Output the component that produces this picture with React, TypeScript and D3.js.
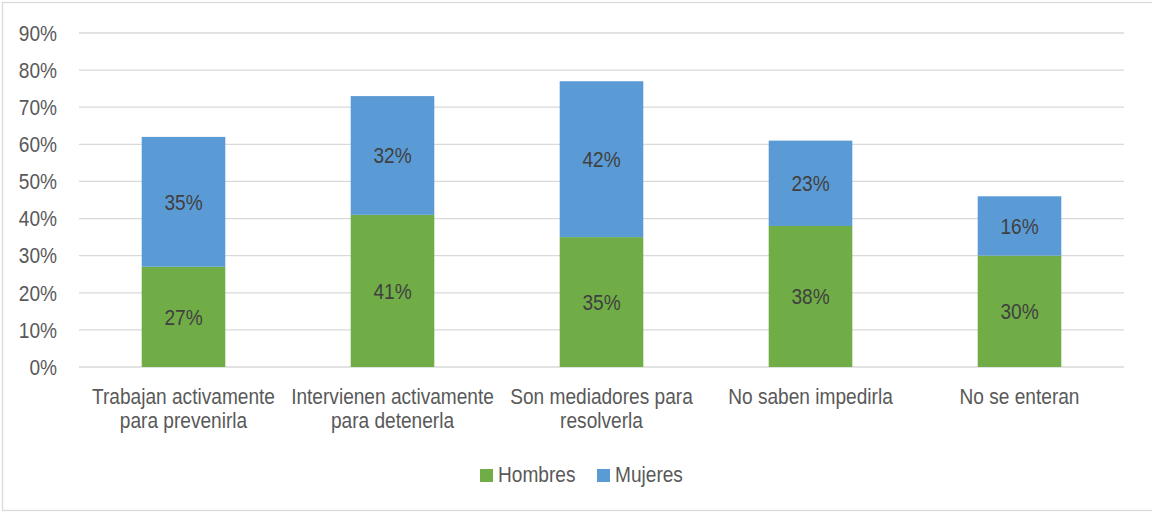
import React, { useEffect, useRef } from 'react';
import * as d3 from 'd3';

const categories: string[][] = [
    ["Trabajan activamente", "para prevenirla"],
    ["Intervienen activamente", "para detenerla"],
    ["Son mediadores para", "resolverla"],
    ["No saben impedirla"],
    ["No se enteran"],
];
const hombres = [27, 41, 35, 38, 30];
const mujeres = [35, 32, 42, 23, 16];
const yTicks = [0, 10, 20, 30, 40, 50, 60, 70, 80, 90];
const seriesNames = ["Hombres", "Mujeres"];
const seriesColors = ["#70AD47", "#5B9BD5"];

const ChartSvg: React.FC<{ width?: number; height?: number }> = ({ width = 1152, height = 512 }) => {
    const svgRef = useRef<SVGSVGElement>(null);

    useEffect(() => {
        if (!svgRef.current) return;
        const svg = d3.select(svgRef.current);
        svg.selectAll("*").remove();

        const font = "'Liberation Sans', Arial, sans-serif";
        // source text is a bit taller than it is wide
        const stretch = (px: number, py: number) => `translate(${px},${py}) scale(0.98,1.1)`;

        const margin = { top: 33, right: 28, bottom: 145, left: 79 };
        const innerWidth = width - margin.left - margin.right;
        const innerHeight = height - margin.top - margin.bottom;

        // chart frame (right side runs off the picture)
        svg.append("rect")
            .attr("x", 2.5).attr("y", 2.5)
            .attr("width", width + 10).attr("height", 508)
            .attr("fill", "#fff")
            .attr("stroke", "#d9d9d9")
            .attr("stroke-width", 1.3);

        const g = svg.append("g")
            .attr("transform", `translate(${margin.left},${margin.top})`);

        const keys = categories.map((_, i) => String(i));
        const x = d3.scaleBand()
            .domain(keys)
            .range([0, innerWidth])
            .paddingInner(0.6)
            .paddingOuter(0.3);

        const y = d3.scaleLinear()
            .domain([0, 90])
            .range([innerHeight, 0]);

        // gridlines
        g.selectAll("line.grid")
            .data(yTicks)
            .enter().append("line")
            .attr("x1", 0).attr("x2", innerWidth)
            .attr("y1", d => y(d)).attr("y2", d => y(d))
            .attr("stroke", "#d9d9d9")
            .attr("stroke-width", 1.3);

        // y tick labels
        g.selectAll("text.ytick")
            .data(yTicks)
            .enter().append("text")
            .attr("transform", d => stretch(-22, y(d)))
            .attr("dy", "0.36em")
            .attr("text-anchor", "end")
            .style("font-family", font)
            .style("font-size", "19.5px")
            .style("fill", "#595959")
            .text(d => `${d}%`);

        // stacked bars
        const stackData = keys.map((k, i) => ({ key: k, Hombres: hombres[i], Mujeres: mujeres[i] }));
        const stack = d3.stack<any>().keys(seriesNames)(stackData);

        stack.forEach((layer, si) => {
            layer.forEach((seg, i) => {
                const xPos = x(keys[i]);
                if (xPos === undefined) return;
                g.append("rect")
                    .attr("x", xPos)
                    .attr("y", y(seg[1]))
                    .attr("width", x.bandwidth())
                    .attr("height", y(seg[0]) - y(seg[1]))
                    .attr("fill", seriesColors[si]);

                g.append("text")
                    .attr("transform", stretch(xPos + x.bandwidth() / 2, y((seg[0] + seg[1]) / 2)))
                    .attr("dy", "0.36em")
                    .attr("text-anchor", "middle")
                    .style("font-family", font)
                    .style("font-size", "19.5px")
                    .style("fill", "#404040")
                    .text(`${seg[1] - seg[0]}%`);
            });
        });

        // category labels
        categories.forEach((lines, i) => {
            const xPos = x(keys[i]);
            if (xPos === undefined) return;
            lines.forEach((line, li) => {
                g.append("text")
                    .attr("transform", stretch(xPos + x.bandwidth() / 2, innerHeight + 37 + li * 24))
                    .attr("text-anchor", "middle")
                    .style("font-family", font)
                    .style("font-size", "19.5px")
                    .style("fill", "#595959")
                    .text(line);
            });
        });

        // legend
        const legend = svg.append("g").attr("transform", "translate(480,469)");
        const legendX = [0, 117];
        seriesNames.forEach((name, i) => {
            legend.append("rect")
                .attr("x", legendX[i]).attr("y", 0)
                .attr("width", 13).attr("height", 13)
                .attr("fill", seriesColors[i]);
            legend.append("text")
                .attr("transform", stretch(legendX[i] + 18, 13))
                .style("font-family", font)
                .style("font-size", "19.5px")
                .style("fill", "#595959")
                .text(name);
        });
    }, [width, height]);

    return <svg ref={svgRef} width={width} height={height} style={{ display: 'block' }} />;
};

export default function App() {
    return (
        <div style={{ position: 'absolute', top: 0, left: 0, width: 1152, height: 512, overflow: 'hidden', background: '#fff' }}>
            <ChartSvg />
        </div>
    );
}
